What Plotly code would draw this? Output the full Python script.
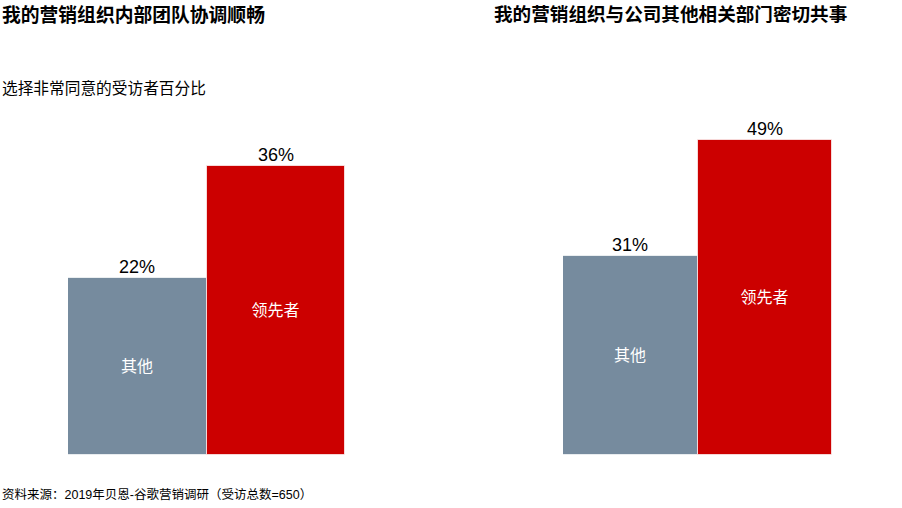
import plotly.graph_objects as go

categories = ["其他", "领先者"]
left_values = [22, 36]
right_values = [31, 49]
left_title = "我的营销组织内部团队协调顺畅"
right_title = "我的营销组织与公司其他相关部门密切共事"
subtitle = "选择非常同意的受访者百分比"
source = "资料来源：2019年贝恩-谷歌营销调研（受访总数=650）"
colors = ["#768B9E", "#CC0000"]

FONT = "Liberation Sans, Arial, Noto Sans CJK SC, sans-serif"

fig = go.Figure()
annotations = []

for vals, xa, ya in [(left_values, "x", "y"), (right_values, "x2", "y2")]:
    fig.add_trace(go.Bar(
        x=categories, y=vals, xaxis=xa, yaxis=ya,
        marker=dict(color=colors, line=dict(color="rgba(255,255,255,0.7)", width=1)),
        text=categories, textposition="inside", insidetextanchor="middle",
        textfont=dict(color="white", size=16, family=FONT),
        hoverinfo="skip", showlegend=False, cliponaxis=False,
    ))
    for c, v in zip(categories, vals):
        annotations.append(dict(
            text=f"{v}%", x=c, y=v, xref=xa, yref=ya, xanchor="center", yanchor="bottom",
            yshift=-1, showarrow=False, font=dict(color="black", size=18, family=FONT),
        ))

ybot = (508 - 454.5) / 508
ytop = (508 - 134) / 508
axis_common = dict(showgrid=False, zeroline=False, showticklabels=False, showline=False, ticks="", fixedrange=True)
annotations += [
    dict(text=f"<b>{left_title}</b>", xref="paper", yref="paper", x=0, y=(508 - 15) / 508,
         xanchor="left", yanchor="middle", showarrow=False, font=dict(size=18.8, color="black", family=FONT)),
    dict(text=f"<b>{right_title}</b>", xref="paper", yref="paper", x=492 / 902, y=(508 - 15) / 508,
         xanchor="left", yanchor="middle", showarrow=False, font=dict(size=18.6, color="black", family=FONT)),
    dict(text=subtitle, xref="paper", yref="paper", x=0, y=(508 - 88) / 508,
         xanchor="left", yanchor="middle", showarrow=False, font=dict(size=15.7, color="black", family=FONT)),
    dict(text=source, xref="paper", yref="paper", x=0, y=(508 - 494) / 508,
         xanchor="left", yanchor="middle", showarrow=False, font=dict(size=12.5, color="black", family=FONT)),
]
fig.update_layout(
    width=902, height=508,
    margin=dict(l=0, r=0, t=0, b=0),
    paper_bgcolor="white", plot_bgcolor="white",
    bargap=0,
    font=dict(family=FONT),
    xaxis=dict(domain=[68 / 902, 345 / 902], **axis_common),
    yaxis=dict(domain=[ybot, ytop], range=[0, 40], **axis_common),
    xaxis2=dict(domain=[563 / 902, 832 / 902], anchor="y2", **axis_common),
    yaxis2=dict(domain=[ybot, ytop], range=[0, 50], anchor="x2", **axis_common),
    annotations=annotations,
)

fig.write_html("out.html", config={"displayModeBar": False},
               post_script="document.body.style.margin='0';document.body.style.overflow='hidden';")
